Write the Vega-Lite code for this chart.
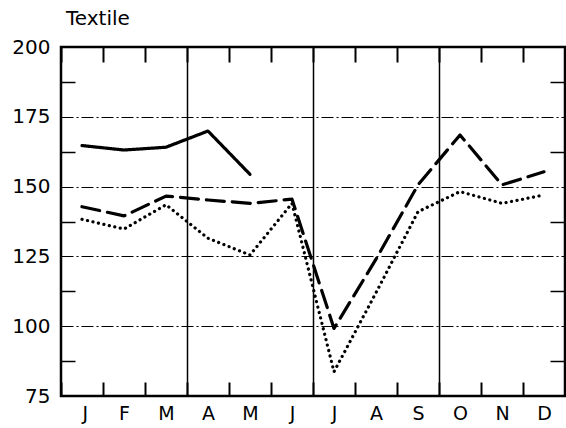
{
  "$schema": "https://vega.github.io/schema/vega-lite/v6.json",
  "width": 504,
  "height": 349,
  "autosize": {"type": "none"},
  "padding": {"left": 61, "top": 47, "right": 1, "bottom": 32},
  "background": "white",
  "config": {
    "view": {"stroke": "black", "strokeWidth": 2.5},
    "axis": {"domain": false, "labelFont": "DejaVu Sans", "labelColor": "black", "title": null}
  },
  "title": {"text": "Textile", "anchor": "start", "frame": "group", "font": "DejaVu Sans", "fontSize": 20, "fontWeight": "normal", "color": "black", "dx": 5, "offset": -8, "baseline": "alphabetic"},
  "data": {
    "values": [
      {"m": 1, "s": "A", "v": 164.7},
      {"m": 2, "s": "A", "v": 163.1},
      {"m": 3, "s": "A", "v": 164.1},
      {"m": 4, "s": "A", "v": 169.9},
      {"m": 5, "s": "A", "v": 154.4},
      {"m": 1, "s": "B", "v": 142.8},
      {"m": 2, "s": "B", "v": 139.5},
      {"m": 3, "s": "B", "v": 146.6},
      {"m": 4, "s": "B", "v": 145.2},
      {"m": 5, "s": "B", "v": 144.0},
      {"m": 6, "s": "B", "v": 145.5},
      {"m": 7, "s": "B", "v": 99.2},
      {"m": 8, "s": "B", "v": 124},
      {"m": 9, "s": "B", "v": 150.6},
      {"m": 10, "s": "B", "v": 168.5},
      {"m": 11, "s": "B", "v": 150.6},
      {"m": 12, "s": "B", "v": 155.3},
      {"m": 1, "s": "C", "v": 138.3},
      {"m": 2, "s": "C", "v": 134.8},
      {"m": 3, "s": "C", "v": 143.5},
      {"m": 4, "s": "C", "v": 131.5},
      {"m": 5, "s": "C", "v": 125.5},
      {"m": 6, "s": "C", "v": 144},
      {"m": 7, "s": "C", "v": 83.7},
      {"m": 8, "s": "C", "v": 112},
      {"m": 9, "s": "C", "v": 141},
      {"m": 10, "s": "C", "v": 148.2},
      {"m": 11, "s": "C", "v": 144},
      {"m": 12, "s": "C", "v": 147}
    ]
  },
  "layer": [
    {
      "mark": {"type": "line", "color": "black", "strokeWidth": 3.2, "strokeCap": "round", "strokeJoin": "round"},
      "encoding": {
        "x": {"field": "m", "type": "quantitative",
          "scale": {"domain": [0.5, 12.5], "nice": false, "zero": false},
          "axis": {"orient": "bottom", "values": [0.5, 1.5, 2.5, 3.5, 4.5, 5.5, 6.5, 7.5, 8.5, 9.5, 10.5, 11.5, 12.5],
            "tickSize": -14, "tickColor": "black", "tickWidth": 2,
            "labelExpr": "['J','F','M','A','M','J','J','A','S','O','N','D',''][floor(datum.value)]",
            "labelOffset": 21, "labelFontSize": 19, "labelPadding": 22, "labelBaseline": "top", "grid": false}},
        "y": {"field": "v", "type": "quantitative",
          "scale": {"domain": [75, 200], "nice": false, "zero": false},
          "axis": {"orient": "left", "values": [75, 87.5, 100, 112.5, 125, 137.5, 150, 162.5, 175, 187.5, 200],
            "tickSize": -14, "tickColor": "black", "tickWidth": 1.5,
            "tickOpacity": {"condition": {"test": "datum.value % 25 != 0", "value": 1}, "value": 0},
            "labelExpr": "datum.value % 25 == 0 ? datum.label : ''",
            "labelFontSize": 20, "labelPadding": 25,
            "grid": true, "gridColor": "black", "gridWidth": 1.2, "gridDash": [12, 3, 2, 3],
            "gridOpacity": {"condition": {"test": "datum.value % 25 == 0 && datum.value > 75 && datum.value < 200", "value": 1}, "value": 0}}},
        "strokeDash": {"field": "s", "type": "nominal",
          "scale": {"domain": ["A", "B", "C"], "range": [[1, 0], [18, 8], [0.1, 5.5]]}, "legend": null}
      }
    },
    {
      "mark": {"type": "line", "opacity": 0},
      "encoding": {
        "x": {"field": "m", "type": "quantitative",
          "axis": {"orient": "top", "values": [0.5, 1.5, 2.5, 3.5, 4.5, 5.5, 6.5, 7.5, 8.5, 9.5, 10.5, 11.5, 12.5],
            "tickSize": -15, "tickColor": "black", "tickWidth": 2, "labels": false,
            "grid": true, "gridColor": "black", "gridWidth": 1.5,
            "gridOpacity": {"condition": {"test": "datum.value == 3.5 || datum.value == 6.5 || datum.value == 9.5", "value": 1}, "value": 0}}},
        "y": {"field": "v", "type": "quantitative",
          "axis": {"orient": "right", "values": [87.5, 112.5, 137.5, 162.5, 187.5],
            "tickSize": -15, "tickColor": "black", "tickWidth": 1.5, "labels": false, "grid": false}},
        "detail": {"field": "s"}
      }
    }
  ],
  "resolve": {"axis": {"x": "independent", "y": "independent"}}
}
